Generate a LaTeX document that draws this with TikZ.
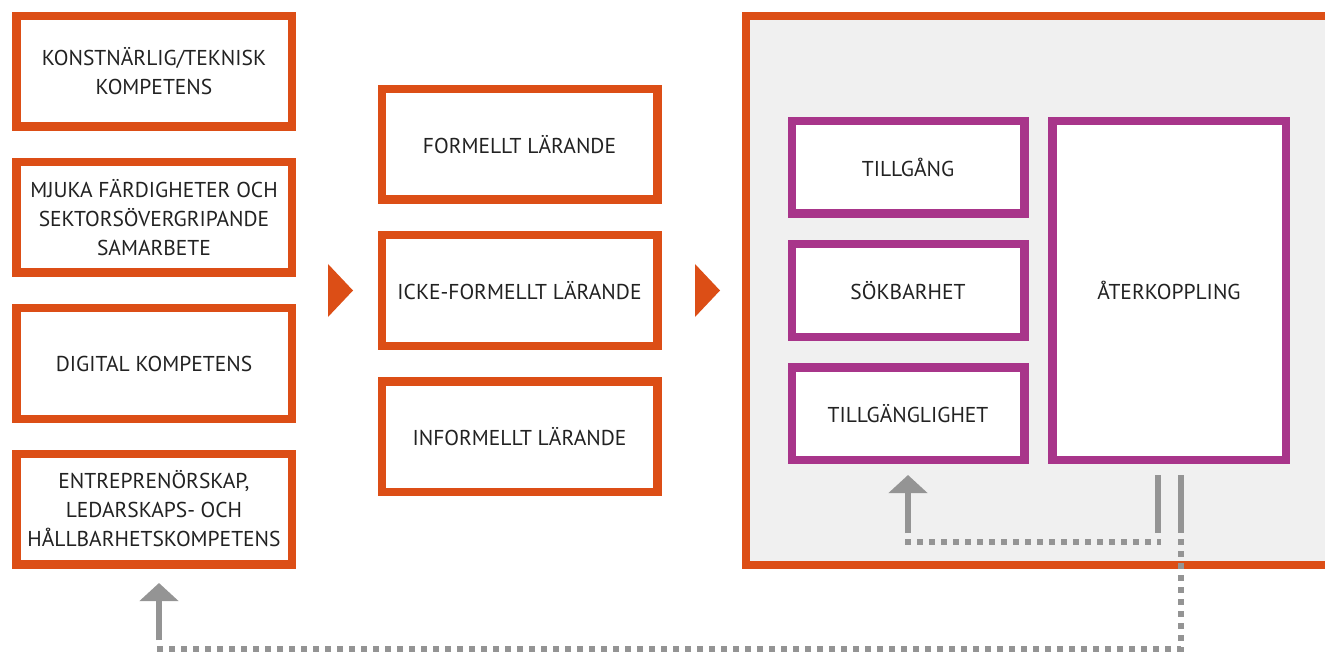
\documentclass[tikz,border=0pt]{standalone}
\usepackage{fontspec}
\setmainfont{PT Sans}
\usetikzlibrary{arrows.meta}
\definecolor{eor}{RGB}{220,78,22}
\definecolor{epu}{RGB}{168,53,138}
\definecolor{egr}{RGB}{148,148,148}
\definecolor{ebg}{RGB}{240,240,240}
\definecolor{etx}{RGB}{34,34,34}
\begin{document}
\begin{tikzpicture}[x=1pt,y=-1pt,
  lbl/.style={align=center,text=etx,inner sep=0pt,font=\fontsize{21.5}{29}\selectfont},
  obox/.style={lbl,draw=eor,line width=8.5pt,fill=white,minimum width=275.5pt,minimum height=110.5pt},
  pbox/.style={lbl,draw=epu,line width=8.5pt,fill=white,minimum width=232.5pt,minimum height=92.5pt},
  panel/.style={draw=eor,line width=8pt,fill=ebg,minimum width=600pt,minimum height=549pt,inner sep=0pt},
  chev/.style={fill=eor},
  bar/.style={draw=egr,line width=6pt},
  dots/.style={draw=egr,line width=6pt,dash pattern=on 6pt off 6pt},
  uparrow/.style={draw=egr,line width=6pt,-{Triangle[width=38pt,length=18pt]}}
]
\useasboundingbox (0,0) rectangle (1325,652);
\clip (0,0) rectangle (1325,652);

% left column
\node[obox] (k1) at (154,71.5) {KONSTNÄRLIG/TEKNISK\\KOMPETENS};
\node[obox] (k2) at (154,217.5) {MJUKA FÄRDIGHETER OCH\\SEKTORSÖVERGRIPANDE\\SAMARBETE};
\node[obox] (k3) at (154,363.5) {DIGITAL KOMPETENS};
\node[obox] (k4) at (154,509) {ENTREPRENÖRSKAP,\\LEDARSKAPS- OCH\\HÅLLBARHETSKOMPETENS};

% middle column
\node[obox] (l1) at (519.5,144.5) {FORMELLT LÄRANDE};
\node[obox] (l2) at (519.5,290.5) {ICKE-FORMELLT LÄRANDE};
\node[obox] (l3) at (519.5,436.5) {INFORMELLT LÄRANDE};

% chevrons
\fill[chev] (328,264) -- (353,290.5) -- (328,317) -- cycle;
\fill[chev] (695,264) -- (720,290.5) -- (695,317) -- cycle;

% right panel
\node[panel] (pn) at (1046,290.5) {};
\node[pbox] (p1) at (908,167.5) {TILLGÅNG};
\node[pbox] (p2) at (908,290.5) {SÖKBARHET};
\node[pbox] (p3) at (908,413.5) {TILLGÄNGLIGHET};
\node[pbox,minimum width=233.5pt,minimum height=338.5pt] (p4) at (1169,290.5) {ÅTERKOPPLING};

% feedback connectors
\coordinate (a1) at (1158,475);
\coordinate (a2) at (1158,533);
\coordinate (b1) at (1181,475);
\coordinate (b2) at (1181,533);
\coordinate (d1) at (1161,542);
\coordinate (d2) at (905,542);
\coordinate (u1) at (908,533);
\coordinate (u1t) at (908,475);
\coordinate (e1) at (1181,539);
\coordinate (e2) at (1181,649);
\coordinate (e3) at (156,649);
\coordinate (u2) at (159,640);
\coordinate (u2t) at (159,583);

\draw[bar] (a1) -- (a2);
\draw[bar] (b1) -- (b2);
\draw[dots] (d2) -- (d1);
\draw[uparrow] (u1) -- (u1t);
\draw[dots] (e1) -- (e2) -- (e3);
\draw[uparrow] (u2) -- (u2t);
\end{tikzpicture}
\end{document}
